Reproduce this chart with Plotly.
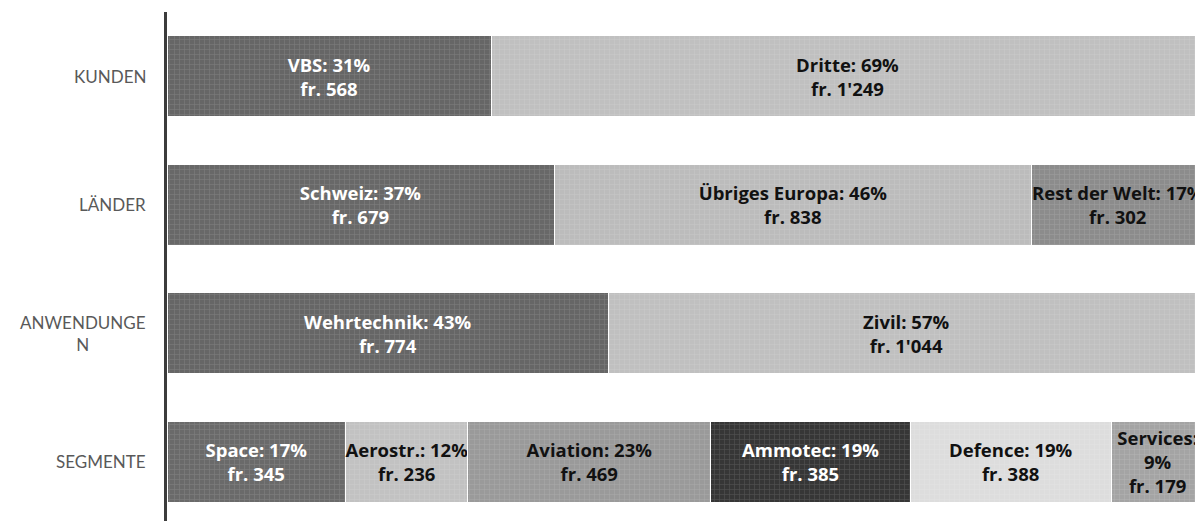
import plotly.graph_objects as go

# ---- data ----
categories = ["KUNDEN", "LÄNDER", "ANWENDUNGEN", "SEGMENTE"]
category_labels = ["KUNDEN", "LÄNDER", "ANWENDUNGE<br>N", "SEGMENTE"]

kunden_names = ["VBS", "Dritte"]
kunden_pct = ["31%", "69%"]
kunden_fr = [568, 1249]

laender_names = ["Schweiz", "Übriges Europa", "Rest der Welt"]
laender_pct = ["37%", "46%", "17%"]
laender_fr = [679, 838, 302]

anwendungen_names = ["Wehrtechnik", "Zivil"]
anwendungen_pct = ["43%", "57%"]
anwendungen_fr = [774, 1044]

segmente_names = ["Space", "Aerostr.", "Aviation", "Ammotec", "Defence", "Services"]
segmente_pct = ["17%", "12%", "23%", "19%", "19%", "9%"]
segmente_fr = [345, 236, 469, 385, 388, 179]

# ---- styles ----
styles = {
    "KUNDEN": [("#666666", "white"), ("#c0c0c0", "#111111")],
    "LÄNDER": [("#686868", "white"), ("#bcbcbc", "#111111"), ("#8c8c8c", "#111111")],
    "ANWENDUNGEN": [("#666666", "white"), ("#c0c0c0", "#111111")],
    "SEGMENTE": [("#6a6a6a", "white"), ("#c2c2c2", "#111111"), ("#9a9a9a", "#111111"),
                 ("#363636", "white"), ("#dddddd", "#111111"), ("#a4a4a4", "#111111")],
}


def lighten(hexc, amt=0.25):
    h = hexc.lstrip("#")
    r, g, b = int(h[0:2], 16), int(h[2:4], 16), int(h[4:6], 16)
    r = int(r + (255 - r) * amt)
    g = int(g + (255 - g) * amt)
    b = int(b + (255 - b) * amt)
    return "#%02x%02x%02x" % (r, g, b)


def fmt_fr(v):
    s = f"{v:,}".replace(",", "'")
    return f"fr. {s}"


rows = [
    ("KUNDEN", kunden_names, kunden_pct, kunden_fr),
    ("LÄNDER", laender_names, laender_pct, laender_fr),
    ("ANWENDUNGEN", anwendungen_names, anwendungen_pct, anwendungen_fr),
    ("SEGMENTE", segmente_names, segmente_pct, segmente_fr),
]

fig = go.Figure()
for cat, names, pcts, frs in rows:
    total = sum(frs)
    for i, (n, p, v) in enumerate(zip(names, pcts, frs)):
        color, tcolor = styles[cat][i]
        if n == "Services":
            label = f"<b>{n}:<br>{p}<br>{fmt_fr(v)}</b>"
        else:
            label = f"<b>{n}: {p}<br>{fmt_fr(v)}</b>"
        fig.add_trace(go.Bar(
            y=[cat], x=[v / total * 100], orientation="h",
            marker=dict(color=color, line=dict(color="white", width=1),
                        pattern=dict(shape="+", size=5, solidity=0.25,
                                     fgcolor=lighten(color, 0.22), fgopacity=0.6)),
            text=[label], textposition="inside", insidetextanchor="middle",
            textangle=0, constraintext="none",
            textfont=dict(family="Open Sans", size=18.5, color=tcolor),
            showlegend=False, hoverinfo="skip",
        ))

for cat, lab in zip(categories, category_labels):
    fig.add_annotation(x=0, y=cat, xref="paper", yref="y", text=lab,
                       showarrow=False, xanchor="right", yanchor="middle",
                       align="center", xshift=-19,
                       font=dict(family="Lato", size=17, color="#595959"))

fig.update_layout(
    width=1195, height=521,
    margin=dict(l=167, r=0, t=12, b=0),
    barmode="stack", bargap=0.37,
    plot_bgcolor="white", paper_bgcolor="white",
    xaxis=dict(range=[0, 100 * 1028 / 1037], showgrid=False, zeroline=False,
               showticklabels=False, showline=False, fixedrange=True),
    yaxis=dict(categoryorder="array", categoryarray=categories[::-1],
               range=[-0.461, 3.5], showticklabels=False, showgrid=False,
               showline=True, linecolor="#3c3c3c", linewidth=3, ticks="",
               zeroline=False, fixedrange=True),
)

# remove the default page margin and scrollbars so the figure fills the window
fig.write_html(
    "out.html",
    config={"displayModeBar": False},
    post_script="document.body.style.margin='0';document.body.style.overflow='hidden';"
                "document.documentElement.style.overflow='hidden';",
)
